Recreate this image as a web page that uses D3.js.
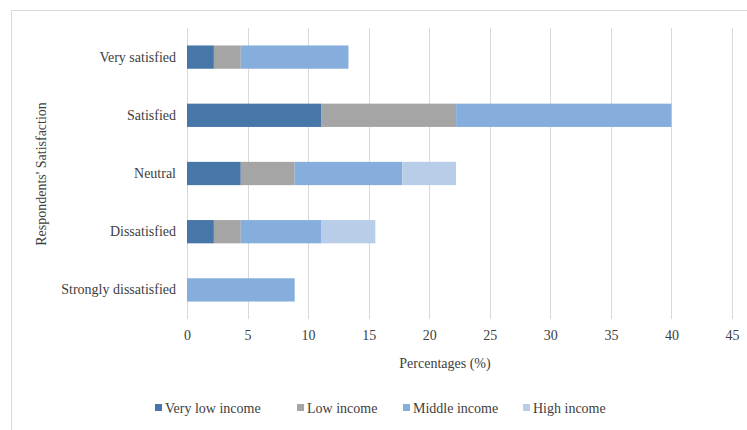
<!DOCTYPE html>
<html>
<head>
<meta charset="utf-8">
<script src="https://cdn.jsdelivr.net/npm/d3@7"></script>
<style>
  html, body { margin: 0; padding: 0; background: #fff; }
  svg { display: block; }
  svg text { font-family: "Liberation Serif", "Times New Roman", "DejaVu Serif", serif; }
</style>
</head>
<body>
<svg id="chart" width="747" height="430"></svg>
<script>
// Satisfaction levels, top to bottom
const categories = ["Very satisfied", "Satisfied", "Neutral", "Dissatisfied", "Strongly dissatisfied"];
// Income groups stacked left to right
const seriesNames = ["Very low income", "Low income", "Middle income", "High income"];
// Percentages of respondents per satisfaction level
const veryLowIncome = [2.22, 11.11, 4.44, 2.22, 0];
const lowIncome     = [2.22, 11.11, 4.44, 2.22, 0];
const middleIncome  = [8.89, 17.78, 8.89, 6.67, 8.89];
const highIncome    = [0, 0, 4.44, 4.44, 0];
const xTicks = [0, 5, 10, 15, 20, 25, 30, 35, 40, 45];

const colors = ["#4677A8", "#A5A5A5", "#85AEDC", "#B8CEE8"];
const textColor = "#404040";
const fontSize = 14;

const rows = categories.map((c, i) => ({
  category: c,
  "Very low income": veryLowIncome[i],
  "Low income": lowIncome[i],
  "Middle income": middleIncome[i],
  "High income": highIncome[i]
}));

const svg = d3.select("#chart");

// Chart frame
svg.append("rect")
  .attr("x", 11.5).attr("y", 10.5)
  .attr("width", 760).attr("height", 440)
  .attr("fill", "none").attr("stroke", "#d9d9d9").attr("stroke-width", 1);

const x = d3.scaleLinear().domain([0, 45]).range([187, 732]);
const y = d3.scaleBand().domain(categories).range([28, 319]).paddingInner(0.6).paddingOuter(0.3);
const color = d3.scaleOrdinal().domain(seriesNames).range(colors);

// Vertical gridlines
svg.append("g")
  .selectAll("line")
  .data(xTicks)
  .join("line")
  .attr("x1", d => Math.round(x(d)) + 0.5)
  .attr("x2", d => Math.round(x(d)) + 0.5)
  .attr("y1", 28).attr("y2", 319)
  .attr("stroke", "#d9d9d9").attr("stroke-width", 1);

// Stacked bars
const stack = d3.stack().keys(seriesNames);
const layers = stack(rows);

svg.append("g")
  .selectAll("g")
  .data(layers)
  .join("g")
  .attr("fill", d => color(d.key))
  .selectAll("rect")
  .data(d => d)
  .join("rect")
  .attr("x", d => x(d[0]))
  .attr("y", d => y(d.data.category))
  .attr("width", d => x(d[1]) - x(d[0]))
  .attr("height", y.bandwidth());

// X axis tick labels
const xAxis = d3.axisBottom(x).tickValues(xTicks).tickSize(0).tickPadding(0);
const gx = svg.append("g").attr("transform", "translate(0,330)").call(xAxis);
gx.attr("font-family", null).attr("font-size", null);
gx.select(".domain").remove();
gx.selectAll("text")
  .attr("font-size", fontSize).attr("fill", textColor).attr("dy", "0.71em");

// Y axis category labels
const yAxis = d3.axisLeft(y).tickSize(0).tickPadding(0);
const gy = svg.append("g").attr("transform", "translate(176,0)").call(yAxis);
gy.attr("font-family", null).attr("font-size", null);
gy.select(".domain").remove();
gy.selectAll("text")
  .attr("font-size", fontSize).attr("fill", textColor);

// Axis titles
svg.append("text")
  .attr("x", 445).attr("y", 368)
  .attr("text-anchor", "middle")
  .attr("font-size", fontSize).attr("fill", textColor)
  .text("Percentages (%)");

svg.append("text")
  .attr("transform", "translate(46,174) rotate(-90)")
  .attr("text-anchor", "middle")
  .attr("font-size", fontSize).attr("fill", textColor)
  .text("Respondents' Satisfaction");

// Legend
const legendX = [155, 297, 403, 523];
const legend = svg.append("g")
  .selectAll("g")
  .data(seriesNames)
  .join("g")
  .attr("transform", (d, i) => `translate(${legendX[i]},408)`);
legend.append("rect")
  .attr("x", 0).attr("y", -4).attr("width", 7).attr("height", 7)
  .attr("fill", d => color(d));
legend.append("text")
  .attr("x", 10).attr("y", 0).attr("dy", "0.35em")
  .attr("font-size", fontSize).attr("fill", textColor)
  .text(d => d);
</script>
</body>
</html>
